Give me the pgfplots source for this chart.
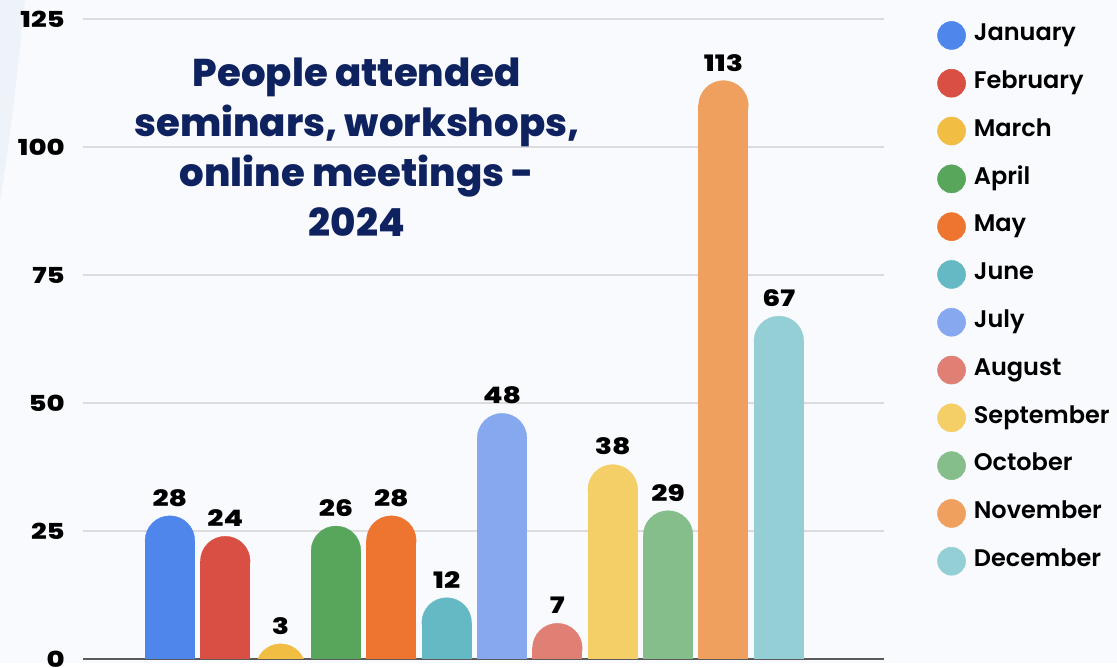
\documentclass[border=0pt]{standalone}
\usepackage{pgfplots}
\pgfplotsset{compat=1.18}
\usepackage{fontspec}
\setmainfont{Poppins}
\newfontfamily\numfont{Poppins ExtraBold}[FakeStretch=1.25]
\newfontfamily\legfont{Poppins SemiBold}
\newfontfamily\titlefont{Poppins ExtraBold}
\definecolor{bg}{HTML}{F8FAFD}
\definecolor{bgtwo}{HTML}{EEF2F9}
\definecolor{gridgray}{HTML}{DCDCDE}
\definecolor{axisgray}{HTML}{5A5A5A}
\definecolor{navy}{HTML}{0F2260}
\definecolor{cJan}{HTML}{4F86EC}
\definecolor{cFeb}{HTML}{D94F43}
\definecolor{cMar}{HTML}{F1BD42}
\definecolor{cApr}{HTML}{58A55C}
\definecolor{cMay}{HTML}{EE7530}
\definecolor{cJun}{HTML}{65B9C4}
\definecolor{cJul}{HTML}{86A8EF}
\definecolor{cAug}{HTML}{E07F73}
\definecolor{cSep}{HTML}{F4CF68}
\definecolor{cOct}{HTML}{85BE8B}
\definecolor{cNov}{HTML}{F0A05E}
\definecolor{cDec}{HTML}{93CFD5}
\pgfplotsset{
  mybar/.style={ybar, bar width=37.5pt, bar shift=0pt, fill=#1, draw=none,
    mark=*, mark size=18.6pt, mark options={fill=#1, draw=#1, line width=0.3pt},
    yshift=-18.75pt, forget plot},
  legdot/.style={legend image code/.code={\fill[#1] (10.5pt,0pt) circle (10.5pt);}}
}
\begin{document}
\begin{tikzpicture}
\fill[bg] (-62.25pt,-3pt) rectangle (775.5pt,494.25pt);
\fill[bgtwo] (-62.25pt,494.25pt) -- (-43.5pt,494.25pt) .. controls (-50pt,430pt) and (-56pt,380pt) .. (-62.25pt,344.25pt) -- cycle;
\begin{axis}[
  at={(0,0)}, anchor=south west, scale only axis,
  width=600.75pt, height=480pt,
  xmin=-1.57, xmax=12.9, ymin=0, ymax=125,
  ytick={0,25,50,75,100,125}, xtick=\empty,
  axis x line*=bottom, axis y line*=left,
  y axis line style={draw=none},
  x axis line style={draw=axisgray, line width=1.5pt, -},
  ymajorgrids, grid style={draw=gridgray, line width=1pt},
  major tick length=0pt,
  /pgf/number format/assume math mode=true,
  yticklabel style={font=\numfont\fontsize{16.5}{16.5}\selectfont, anchor=east, inner sep=0pt, xshift=-13.5pt},
  clip marker paths=true,
  nodes near coords,
  nodes near coords style={font=\numfont\fontsize{17}{17}\selectfont, anchor=south, inner sep=0pt, yshift=25.5pt, text=black},
  legend style={at={(1.0662,0.997)}, anchor=north west, draw=none, fill=none, inner sep=0pt,
    row sep=14.45pt, font=\legfont\fontsize{18}{18}\selectfont,
    nodes={inner sep=0pt, text height=12pt, text depth=4pt},
    /tikz/every odd column/.append style={column sep=6pt}},
  legend cell align=left,
]
\addplot[mybar=cJan] coordinates {(0,28)};
\addplot[mybar=cFeb] coordinates {(1,24)};
\addplot[mybar=cMar] coordinates {(2,3)};
\addplot[mybar=cApr] coordinates {(3,26)};
\addplot[mybar=cMay] coordinates {(4,28)};
\addplot[mybar=cJun] coordinates {(5,12)};
\addplot[mybar=cJul] coordinates {(6,48)};
\addplot[mybar=cAug] coordinates {(7,7)};
\addplot[mybar=cSep] coordinates {(8,38)};
\addplot[mybar=cOct] coordinates {(9,29)};
\addplot[mybar=cNov] coordinates {(10,113)};
\addplot[mybar=cDec] coordinates {(11,67)};
\addlegendimage{legdot=cJan}\addlegendentry{January}
\addlegendimage{legdot=cFeb}\addlegendentry{February}
\addlegendimage{legdot=cMar}\addlegendentry{March}
\addlegendimage{legdot=cApr}\addlegendentry{April}
\addlegendimage{legdot=cMay}\addlegendentry{May}
\addlegendimage{legdot=cJun}\addlegendentry{June}
\addlegendimage{legdot=cJul}\addlegendentry{July}
\addlegendimage{legdot=cAug}\addlegendentry{August}
\addlegendimage{legdot=cSep}\addlegendentry{September}
\addlegendimage{legdot=cOct}\addlegendentry{October}
\addlegendimage{legdot=cNov}\addlegendentry{November}
\addlegendimage{legdot=cDec}\addlegendentry{December}
\node[align=center, text=navy, font=\titlefont\fontsize{29}{37.5}\selectfont] at (rel axis cs:0.342,0.80) {People attended\\seminars, workshops,\\online meetings -\\2024};
\end{axis}
\end{tikzpicture}
\end{document}
